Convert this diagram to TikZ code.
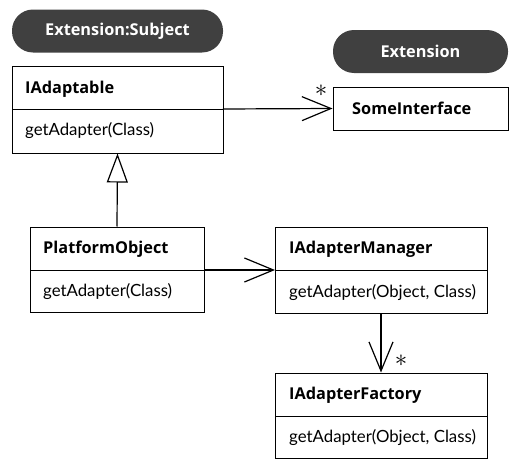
\documentclass[tikz,border=0pt]{standalone}
\usepackage{fontspec}
\setmainfont{Lato}
\newfontfamily\titlefont{Open Sans}
\usetikzlibrary{arrows.meta}
\begin{document}
\begin{tikzpicture}[x=1pt,y=-1pt,
  box/.style={draw=black, line width=1pt, inner sep=0pt},
  pill/.style={fill=black!75, rounded corners=21pt, inner sep=0pt, text=white, font=\titlefont\fontsize{16.3}{18}\selectfont\bfseries},
  title/.style={anchor=west, inner sep=0pt, font=\titlefont\fontsize{16.3}{18}\selectfont\bfseries},
  meth/.style={anchor=west, inner sep=0pt, font=\fontsize{16.8}{19}\selectfont},
  assoc/.style={line width=1.2pt, -{Straight Barb[length=29pt,width=24pt,line width=1.2pt]}},
  inherit/.style={line width=1.2pt, -{Triangle[open,length=29pt,width=21pt,line width=1.2pt]}},
  mult/.style={inner sep=0pt, font=\fontsize{30}{30}\selectfont}
]
\useasboundingbox (0,0) rectangle (515,463);
% pills
\node[pill, minimum width=211pt, minimum height=43pt] (pillsub) at (117.5,31) {Extension:Subject};
\node[pill, minimum width=175pt, minimum height=43pt] (pillext) at (420.5,51.5) {Extension};
% IAdaptable
\node[box, minimum width=211pt, minimum height=87pt] (ia) at (117.5,109.5) {};
\draw[line width=1pt] (12,109) coordinate (iadl) -- (223,109) coordinate (iadr);
\node[title] (iat) at (25,89) {IAdaptable};
\node[meth] (iam) at (25,131) {getAdapter(Class)};
% SomeInterface
\node[box, minimum width=175pt, minimum height=43pt] (si) at (420.5,108.5) {};
\node[title] (sit) at (352,108.5) {SomeInterface};
% PlatformObject
\node[box, minimum width=174pt, minimum height=85pt] (po) at (117,269.5) {};
\draw[line width=1pt] (30,270) coordinate (podl) -- (204,270) coordinate (podr);
\node[title] (pot) at (43,249) {PlatformObject};
\node[meth] (pom) at (43,292) {getAdapter(Class)};
% IAdapterManager
\node[box, minimum width=212pt, minimum height=86pt] (iam2) at (381,270) {};
\draw[line width=1pt] (275,270) coordinate (imdl) -- (487,270) coordinate (imdr);
\node[title] (imt) at (289,249) {IAdapterManager};
\node[meth] (imm) at (289,293) {getAdapter(Object, Class)};
% IAdapterFactory
\node[box, minimum width=212pt, minimum height=85pt] (iaf) at (381,415.5) {};
\draw[line width=1pt] (275,416) coordinate (ifdl) -- (487,416) coordinate (ifdr);
\node[title] (ift) at (289,395) {IAdapterFactory};
\node[meth] (ifm) at (289,438) {getAdapter(Object, Class)};
% connectors
\draw[assoc] (iadr) -- (si.west);
\node[mult] (m1) at (321,91) {$\ast$};
\draw[inherit] (po.north) -- (ia.south);
\draw[assoc] (podr) -- (imdl);
\draw[assoc] (iam2.south) -- (iaf.north);
\node[mult] (m2) at (401,361) {$\ast$};
\end{tikzpicture}
\end{document}
